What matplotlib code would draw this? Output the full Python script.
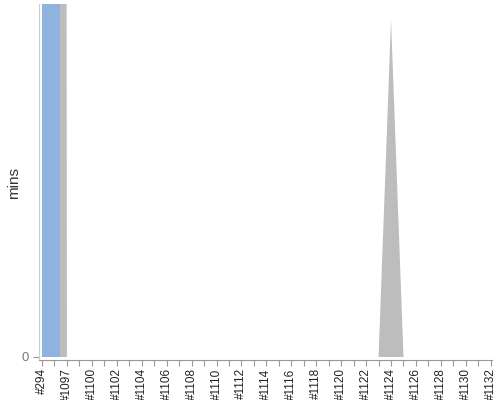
import matplotlib
matplotlib.use("Agg")
import matplotlib.pyplot as plt
import numpy as np

plt.rcParams["font.family"] = ["Liberation Sans", "DejaVu Sans"]

# build labels: #294 followed by the later builds
builds = ["#294", "#1096", "#1097", "#1099"] + ["#%d" % n for n in range(1100, 1133)]

# build time in minutes (grey area), first two builds go far off the chart
grey_mins = [4000, 4000, 0, 0] + [0] * 23 + [0, 95.5, 0] + [0] * 7
# blue bar for the very first build
blue_mins = [3500]

x = np.arange(len(builds))

fig = plt.figure(figsize=(5, 4), dpi=100)
ax = fig.add_axes([0.078, 0.10, 0.906, 0.89])

ax.fill_between(x, grey_mins, 0, color="#bdbdbd", linewidth=0, zorder=1)
ax.bar(x[:1], blue_mins, width=1.45, align="edge", color="#8fb3dd",
       linewidth=0, zorder=2)

ax.set_xlim(-0.24, 36.1)
ax.set_ylim(-0.85, 100)

ax.set_xticks(x)
ax.set_xticklabels([b if i % 2 == 0 else "" for i, b in enumerate(builds)],
                   rotation=90, fontsize=8.5, color="#222222")
ax.set_yticks([0])
ax.set_yticklabels(["0"], fontsize=9.5, color="#777777")
ax.tick_params(axis="x", length=4, width=0.8, color="#999999", pad=2)
ax.tick_params(axis="y", length=4, width=0.8, color="#999999", pad=3)

# y label placed by hand, close to the left edge like the original
fig.text(0.028, 0.543, "mins", rotation=90, fontsize=11, color="#333333",
         ha="center", va="center")

for side in ["top", "right"]:
    ax.spines[side].set_visible(False)
ax.spines["left"].set_color("#cccccc")
ax.spines["bottom"].set_color("#999999")
ax.spines["left"].set_linewidth(0.8)
ax.spines["bottom"].set_linewidth(0.8)

fig.savefig("out.png", dpi=100)
